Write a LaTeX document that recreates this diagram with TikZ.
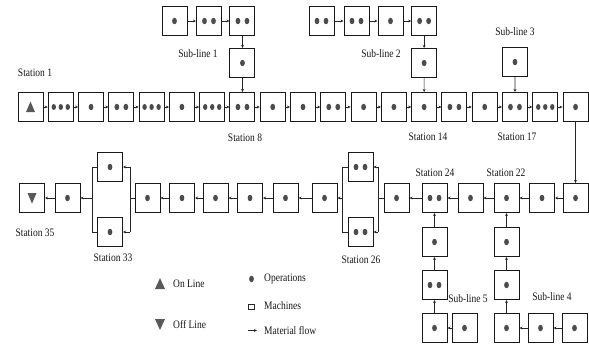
\documentclass[tikz,border=0pt]{standalone}
\usepackage{fontspec}
\setmainfont{Liberation Serif}
\usetikzlibrary{arrows.meta}
\tikzset{
  box/.style={draw=black!90, line width=1pt, minimum width=25pt, minimum height=29pt, inner sep=0pt, fill=white},
  flow/.style={draw=black!85, line width=0.7pt, -{Stealth[length=3pt,width=2.8pt]}},
  barline/.style={draw=black!85, line width=0.7pt},
  lbl/.style={font=\fontsize{9.5}{10}\selectfont, text=black!90, inner sep=0pt},
  dotc/.style={fill=black!70},
  trifill/.style={fill=black!65},
}
\newcommand{\lt}[1]{\scalebox{1}[1.2]{#1}}
\newcommand{\opdots}[2]{%
  \ifnum#2=1\relax \fill[dotc] (#1.center) ellipse (2.4 and 3.2);\fi
  \ifnum#2=2\relax \fill[dotc] ([xshift=-4.5pt]#1.center) ellipse (2.4 and 3.2);
                   \fill[dotc] ([xshift=4.5pt]#1.center) ellipse (2.4 and 3.2);\fi
  \ifnum#2=3\relax \fill[dotc] ([xshift=-7pt]#1.center) ellipse (2.2 and 3);
                   \fill[dotc] (#1.center) ellipse (2.2 and 3);
                   \fill[dotc] ([xshift=7pt]#1.center) ellipse (2.2 and 3);\fi
}
\begin{document}
\begin{tikzpicture}[x=1pt,y=-1pt]
\useasboundingbox[fill=white] (0,0) rectangle (589,346);

% ---------- main line (top row) ----------
\foreach \i/\n in {1/0,2/3,3/1,4/2,5/3,6/1,7/3,8/2,9/1,10/1,11/2,12/1,13/1,14/1,15/2,16/1,17/2,18/3,19/1}{
  \node[box] (m\i) at ({30.5+30.28*(\i-1)},107) {};
  \opdots{m\i}{\n}
}
\fill[trifill] ([shift={(-4.5,5)}]m1.center) -- ([shift={(4.5,5)}]m1.center) -- ([shift={(0,-5.5)}]m1.center) -- cycle;
\foreach \i [count=\j from 2] in {1,...,18} \draw[flow] (m\i) -- (m\j);

% ---------- sub-line 1 ----------
\node[box] (s1a) at (174.5,21) {}; \opdots{s1a}{1}
\node[box] (s1b) at (209,21) {};   \opdots{s1b}{2}
\node[box] (s1c) at (242.46,21) {}; \opdots{s1c}{2}
\node[box] (s1d) at (242.46,63) {}; \opdots{s1d}{1}
\draw[flow] (s1a) -- (s1b);
\draw[flow] (s1b) -- (s1c);
\draw[flow] (s1c) -- (s1d);
\draw[flow] (s1d) -- (m8);

% ---------- sub-line 2 ----------
\node[box] (s2a) at (321.5,21) {}; \opdots{s2a}{2}
\node[box] (s2b) at (356.5,21) {}; \opdots{s2b}{2}
\node[box] (s2c) at (390.5,21) {}; \opdots{s2c}{1}
\node[box] (s2d) at (424.14,21) {}; \opdots{s2d}{2}
\node[box] (s2e) at (424.14,63) {}; \opdots{s2e}{1}
\draw[flow] (s2a) -- (s2b);
\draw[flow] (s2b) -- (s2c);
\draw[flow] (s2c) -- (s2d);
\draw[flow] (s2d) -- (s2e);
\draw[flow] (s2e) -- (m14);

% ---------- sub-line 3 ----------
\node[box] (s3) at (514.98,62) {}; \opdots{s3}{1}
\draw[flow] (s3) -- (m17);

% ---------- bottom row ----------
\node[box] (b1) at (32,198) {};
\fill[trifill] ([shift={(-4.5,-5)}]b1.center) -- ([shift={(4.5,-5)}]b1.center) -- ([shift={(0,5.5)}]b1.center) -- cycle;
\node[box] (b2) at (67.5,198) {};  \opdots{b2}{1}
\node[box] (p33t) at (110,167) {}; \opdots{p33t}{1}
\node[box] (p33b) at (110,232) {}; \opdots{p33b}{1}
\node[box] (b3) at (147.5,198) {}; \opdots{b3}{1}
\node[box] (b4) at (182,198) {};   \opdots{b4}{1}
\node[box] (b5) at (215.5,198) {}; \opdots{b5}{1}
\node[box] (b6) at (250,198) {};   \opdots{b6}{1}
\node[box] (b7) at (285.5,198) {}; \opdots{b7}{1}
\node[box] (b8) at (324.5,198) {}; \opdots{b8}{1}
\node[box] (p26t) at (360.5,167) {}; \opdots{p26t}{2}
\node[box] (p26b) at (360.5,232) {}; \opdots{p26b}{2}
\node[box] (b9) at (396.5,198) {};  \opdots{b9}{1}
\node[box] (b10) at (434.5,198) {}; \opdots{b10}{2}
\node[box] (b11) at (470.5,198) {}; \opdots{b11}{1}
\node[box] (b12) at (506.5,198) {}; \opdots{b12}{1}
\node[box] (b13) at (542,198) {};   \opdots{b13}{1}
\node[box] (b14) at (575.54,198) {}; \opdots{b14}{1}

\draw[flow] (m19) -- (b14);
\draw[flow] (b14) -- (b13);
\draw[flow] (b13) -- (b12);
\draw[flow] (b12) -- (b11);
\draw[flow] (b11) -- (b10);
\draw[flow] (b10) -- (b9);

% parallel station 26
\coordinate (r26) at (378,198);
\coordinate (r26t) at (378,167);
\coordinate (r26b) at (378,232);
\coordinate (l26) at (342,198);
\coordinate (l26t) at (342,167);
\coordinate (l26b) at (342,232);
\draw[barline] (b9) -- (r26);
\draw[barline] (r26t) -- (r26b);
\draw[flow] (r26t) -- (p26t);
\draw[flow] (r26b) -- (p26b);
\draw[barline] (p26t) -- (l26t) -- (l26b) -- (p26b);
\draw[flow] (l26) -- (b8);

\draw[flow] (b8) -- (b7);
\draw[flow] (b7) -- (b6);
\draw[flow] (b6) -- (b5);
\draw[flow] (b5) -- (b4);
\draw[flow] (b4) -- (b3);

% parallel station 33
\coordinate (r33) at (130,198);
\coordinate (r33t) at (130,167);
\coordinate (r33b) at (130,232);
\coordinate (l33) at (92,198);
\coordinate (l33t) at (92,167);
\coordinate (l33b) at (92,232);
\draw[barline] (b3) -- (r33);
\draw[barline] (r33t) -- (r33b);
\draw[flow] (r33t) -- (p33t);
\draw[flow] (r33b) -- (p33b);
\draw[barline] (p33t) -- (l33t) -- (l33b) -- (p33b);
\draw[flow] (l33) -- (b2);
\draw[flow] (b2) -- (b1);

% ---------- sub-line 5 ----------
\node[box] (c5a) at (434.5,242) {}; \opdots{c5a}{1}
\node[box] (c5b) at (434.5,285) {}; \opdots{c5b}{2}
\node[box] (c5c) at (434.5,328) {}; \opdots{c5c}{1}
\node[box] (c5d) at (464.5,328) {}; \opdots{c5d}{1}
\draw[flow] (c5d) -- (c5c);
\draw[flow] (c5c) -- (c5b);
\draw[flow] (c5b) -- (c5a);
\draw[flow] (c5a) -- (b10);

% ---------- sub-line 4 ----------
\node[box] (c4a) at (506.5,242) {}; \opdots{c4a}{1}
\node[box] (c4b) at (506.5,285) {}; \opdots{c4b}{1}
\node[box] (c4c) at (506.5,328) {}; \opdots{c4c}{1}
\node[box] (c4d) at (540.5,328) {}; \opdots{c4d}{1}
\node[box] (c4e) at (574.5,328) {}; \opdots{c4e}{1}
\draw[flow] (c4e) -- (c4d);
\draw[flow] (c4d) -- (c4c);
\draw[flow] (c4c) -- (c4b);
\draw[flow] (c4b) -- (c4a);
\draw[flow] (c4a) -- (b12);

% ---------- labels ----------
\node[lbl] (t1)  at (35,73)   {\lt{Station 1}};
\node[lbl] (t8)  at (245,138) {\lt{Station 8}};
\node[lbl] (t14) at (428,137) {\lt{Station 14}};
\node[lbl] (t17) at (517,137) {\lt{Station 17}};
\node[lbl] (ts1) at (198,54)  {\lt{Sub-line 1}};
\node[lbl] (ts2) at (381,54)  {\lt{Sub-line 2}};
\node[lbl] (ts3) at (515,32)  {\lt{Sub-line 3}};
\node[lbl] (t35) at (35,233)  {\lt{Station 35}};
\node[lbl] (t33) at (113,258) {\lt{Station 33}};
\node[lbl] (t26) at (361,260) {\lt{Station 26}};
\node[lbl] (t24) at (435,173) {\lt{Station 24}};
\node[lbl] (t22) at (506,173) {\lt{Station 22}};
\node[lbl] (ts5) at (468,299) {\lt{Sub-line 5}};
\node[lbl] (ts4) at (552,297) {\lt{Sub-line 4}};

% ---------- legend ----------
\fill[trifill] (155,289) -- (165,289) -- (160,278) -- cycle;
\node[lbl, anchor=west] (lon) at (173,283.5) {\lt{On Line}};
\fill[trifill] (155,319) -- (165,319) -- (160,330) -- cycle;
\node[lbl, anchor=west] (loff) at (173,325) {\lt{Off Line}};
\fill[dotc] (251.5,279) ellipse (2.4 and 3.2);
\node[lbl, anchor=west] (lop) at (264,278.5) {\lt{Operations}};
\draw[black!85, line width=0.9pt] (248.5,304) rectangle (254.5,309);
\node[lbl, anchor=west] (lma) at (264,306) {\lt{Machines}};
\coordinate (la1) at (248,330.5);
\coordinate (la2) at (257,330.5);
\draw[flow] (la1) -- (la2);
\node[lbl, anchor=west] (lmf) at (264,331) {\lt{Material flow}};
\end{tikzpicture}
\end{document}
